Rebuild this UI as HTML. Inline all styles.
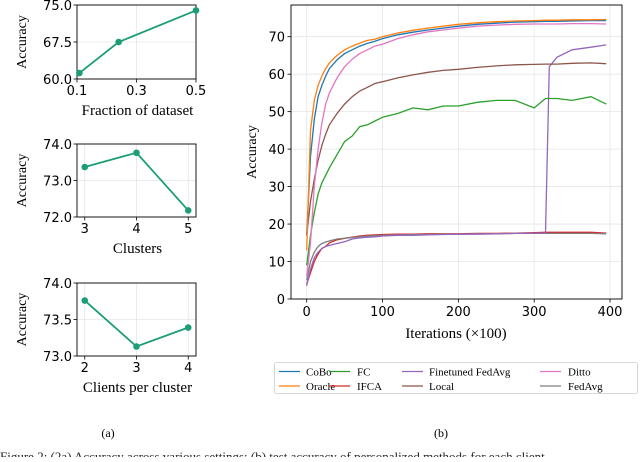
<!DOCTYPE html>
<html><head><meta charset="utf-8">
<style>
body{margin:0;background:#fff;width:640px;height:457px;overflow:hidden}
svg{font-family:"DejaVu Sans",sans-serif}
.serif{font-family:"Liberation Serif",serif}
</style></head><body>
<svg id="fig" width="640" height="457" viewBox="0 0 640 457"></svg>
<script>
// ---- small panels data ----
const fracX = [0.108, 0.24, 0.5];
const fracY = [61.2, 67.5, 73.9];
const fracTicks = [0.1, 0.3, 0.5];
const fracYTicks = [60.0, 67.5, 75.0];
const clusX = [3, 4, 5];
const clusY = [73.37, 73.76, 72.18];
const clusYTicks = [72.0, 73.0, 74.0];
const cpcX = [2, 3, 4];
const cpcY = [73.76, 73.13, 73.39];
const cpcYTicks = [73.0, 73.5, 74.0];
// ---- main chart data ----
const iters = [0,5,10,15,20,25,30,40,50,60,70,80,90,100,120,140,160,180,200,225,250,275,300,315,320,330,350,375,395];
const seriesNames = ["CoBo","Oracle","FC","IFCA","Finetuned FedAvg","Local","Ditto","FedAvg"];
const seriesColors = ["#1f77b4","#ff7f0e","#2ca02c","#d62728","#9467bd","#8c564b","#e377c2","#7f7f7f"];
const cobo = [17,38,48,54,57,59.5,61.5,63.8,65.5,66.5,67.5,68.2,68.8,69.5,70.5,71.2,71.8,72.3,72.8,73.3,73.6,73.9,74.0,74.1,74.1,74.1,74.2,74.3,74.3];
const oracle = [13,45,53,57,59.5,61.5,63,65,66.5,67.5,68.3,69,69.3,70,71,71.7,72.3,72.8,73.3,73.7,74,74.2,74.3,74.4,74.4,74.4,74.5,74.5,74.6];
const fc = [9,17,23,28,31,33,35,38.5,42,43.5,46,46.5,47.5,48.5,49.5,51,50.5,51.5,51.5,52.5,53,53,51,53.5,53.5,53.5,53,54,52];
const ifca = [4,7,10,12,13.5,14,15,15.8,16.2,16.5,16.8,17,17.1,17.2,17.3,17.3,17.4,17.4,17.4,17.5,17.5,17.6,17.7,17.8,17.8,17.8,17.8,17.8,17.6];
const finetuned = [3.5,8,11,12.5,13.5,14,14.3,14.8,15.3,16,16.3,16.5,16.6,16.8,17,17,17.1,17.2,17.3,17.3,17.4,17.5,17.6,17.6,62,64.5,66.5,67.2,67.8];
const local = [17,26,32,37,41,44,46.5,49.5,52,54,55.5,56.5,57.5,58,59,59.8,60.5,61,61.3,61.8,62.2,62.5,62.6,62.7,62.7,62.7,62.9,63,62.8];
const ditto = [6,15,30,40,47,52,55,59,62,64,65.5,66.5,67.5,68,69.5,70.5,71.3,71.8,72.3,72.8,73.1,73.3,73.4,73.4,73.4,73.4,73.5,73.5,73.4];
const fedavg = [5,10,12.5,14,14.8,15.2,15.5,16,16.2,16.4,16.6,16.8,16.9,17,17.1,17.2,17.2,17.3,17.3,17.4,17.4,17.5,17.5,17.5,17.5,17.5,17.5,17.5,17.4];
const mainXTicks = [0,100,200,300,400];
const mainYTicks = [0,10,20,30,40,50,60,70];

const NS="http://www.w3.org/2000/svg";
const svg=document.getElementById('fig');
function el(tag,attrs,parent){const e=document.createElementNS(NS,tag);for(const k in attrs)e.setAttribute(k,attrs[k]);(parent||svg).appendChild(e);return e;}
function txt(s,attrs,parent){const e=el('text',attrs,parent);e.textContent=s;return e;}

function panel(name,box,xd,yd,xs,ys,xticks,yticks,xfmt,yfmt,xlabel){
  const g=el('g',{});
  
  
  const sx=v=>box.x0+(v-xd[0])/(xd[1]-xd[0])*(box.x1-box.x0);
  const sy=v=>box.y1-(v-yd[0])/(yd[1]-yd[0])*(box.y1-box.y0);
  xticks.forEach(t=>{const X=sx(t);el('line',{x1:X,x2:X,y1:box.y0,y2:box.y1,stroke:'#e6e6e6','stroke-width':0.8},g);
    el('line',{x1:X,x2:X,y1:box.y1,y2:box.y1+3.5,stroke:'#000','stroke-width':0.8},g);
    const tl=txt(xfmt(t),{x:X,y:box.y1+16,'font-size':13,'text-anchor':'middle'},g);
    });
  yticks.forEach(t=>{const Y=sy(t);el('line',{x1:box.x0,x2:box.x1,y1:Y,y2:Y,stroke:'#e6e6e6','stroke-width':0.8},g);
    el('line',{x1:box.x0-3.5,x2:box.x0,y1:Y,y2:Y,stroke:'#000','stroke-width':0.8},g);
    const tl=txt(yfmt(t),{x:box.x0-5,y:Y+5,'font-size':13,'text-anchor':'end'},g);
    });
  el('rect',{x:box.x0,y:box.y0,width:box.x1-box.x0,height:box.y1-box.y0,fill:'none',stroke:'#000','stroke-width':0.9},g);
  const pts=xs.map((v,i)=>sx(v)+','+sy(ys[i])).join(' ');
  const ln=el('polyline',{points:pts,fill:'none',stroke:'#1b9e77','stroke-width':1.8},g);
  
  xs.forEach((v,i)=>{const c=el('circle',{cx:sx(v),cy:sy(ys[i]),r:3.3,fill:'#1b9e77'},g);
    });
  const yl=txt('Accuracy',{x:0,y:0,'font-size':14,'text-anchor':'middle',class:'serif',transform:`translate(26,${(box.y0+box.y1)/2}) rotate(-90)`},g);
  
  const xl=txt(xlabel,{x:(box.x0+box.x1)/2+1,y:box.y1+36,'font-size':15,'text-anchor':'middle',class:'serif'},g);
  
}
panel('fraction-panel',{x0:77,x1:196,y0:5,y1:79},[0.1,0.5],[60,75],fracX,fracY,fracTicks,fracYTicks,t=>t.toFixed(1),t=>t.toFixed(1),'Fraction of dataset');
panel('clusters-panel',{x0:77,x1:196,y0:144,y1:217},[2.85,5.15],[72,74],clusX,clusY,clusX,clusYTicks,t=>String(t),t=>t.toFixed(1),'Clusters');
panel('clients-panel',{x0:77,x1:196,y0:283,y1:356},[1.85,4.15],[73,74],cpcX,cpcY,cpcX,cpcYTicks,t=>String(t),t=>t.toFixed(1),'Clients per cluster');

// main chart
(function(){
  const box={x0:291,x1:622,y0:5,y1:299};
  const g=el('g',{});
  
  
  const sx=v=>306.7+v*(610-306.7)/400;
  const sy=v=>299-v*(299-36.7)/70;
  mainXTicks.forEach(t=>{const X=sx(t);el('line',{x1:X,x2:X,y1:box.y0,y2:box.y1,stroke:'#e6e6e6','stroke-width':0.8},g);
    el('line',{x1:X,x2:X,y1:box.y1,y2:box.y1+3.5,stroke:'#000','stroke-width':0.8},g);
    const tl=txt(String(t),{x:X,y:box.y1+17,'font-size':13,'text-anchor':'middle'},g);
    });
  mainYTicks.forEach(t=>{const Y=sy(t);el('line',{x1:box.x0,x2:box.x1,y1:Y,y2:Y,stroke:'#e6e6e6','stroke-width':0.8},g);
    el('line',{x1:box.x0-3.5,x2:box.x0,y1:Y,y2:Y,stroke:'#000','stroke-width':0.8},g);
    const tl=txt(String(t),{x:box.x0-6,y:Y+5,'font-size':13,'text-anchor':'end'},g);
    });
  const all=[cobo,oracle,fc,ifca,finetuned,local,ditto,fedavg];
  const order=[3,7,4,2,5,6,0,1];
  order.forEach(i=>{const d=all[i];
    const pts=iters.map((x,j)=>sx(x).toFixed(1)+','+sy(d[j]).toFixed(1)).join(' ');
    const p=el('polyline',{points:pts,fill:'none',stroke:seriesColors[i],'stroke-width':1.3},g);
    
    });
  el('rect',{x:box.x0,y:box.y0,width:box.x1-box.x0,height:box.y1-box.y0,fill:'none',stroke:'#000','stroke-width':0.9},g);
  const yl=txt('Accuracy',{x:0,y:0,'font-size':14,'text-anchor':'middle',class:'serif',transform:'translate(256,152) rotate(-90)'},g);
  
  const xl=txt('Iterations (×100)',{x:456,y:338,'font-size':15,'text-anchor':'middle',class:'serif'},g);
  
  // legend
  const lg=el('g',{},g);
  
  
  el('rect',{x:274.5,y:362.5,width:363,height:31,rx:2,fill:'#fff',stroke:'#ccc','stroke-width':0.8},lg);
  const cols=[279,329,402,540];
  const textX=[306,357,429,568];
  const legendOrder=[[0,1],[2,3],[4,5],[6,7]];
  legendOrder.forEach((pair,c)=>pair.forEach((si,r)=>{
    const y=371.5+r*14.5;
    const e=el('g',{},lg);
    
    
    el('line',{x1:cols[c],x2:cols[c]+21,y1:y,y2:y,stroke:seriesColors[si],'stroke-width':1.3},e);
    txt(seriesNames[si],{x:textX[c],y:y+4,'font-size':11,class:'serif'},e);
  }));
})();
const a=txt('(a)',{x:108,y:437,'font-size':12,'text-anchor':'middle',class:'serif'});

const b=txt('(b)',{x:441,y:437,'font-size':12,'text-anchor':'middle',class:'serif'});

const cap=txt('Figure 2: (2a) Accuracy across various settings; (b) test accuracy of personalized methods for each client',{x:0,y:461,'font-size':13,class:'serif',fill:'#222'});

</script>
</body></html>
